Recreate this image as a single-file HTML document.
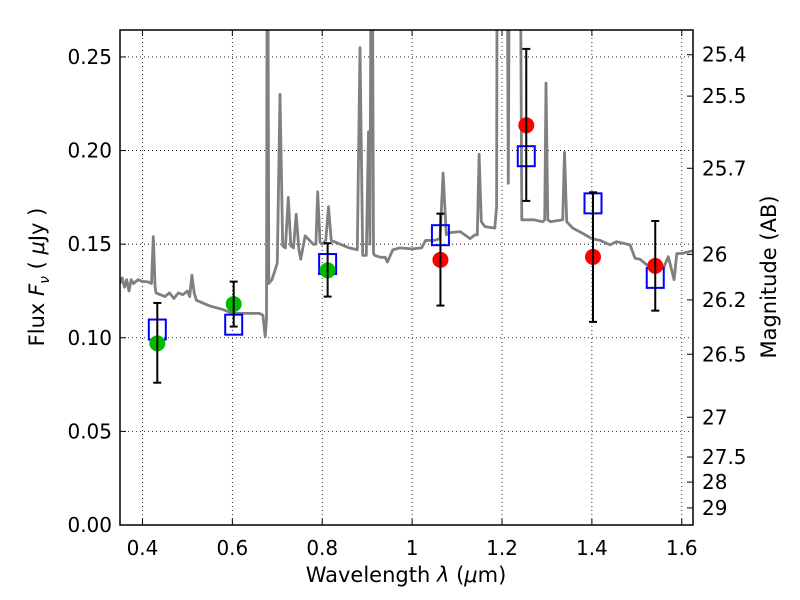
<!DOCTYPE html>
<html><head><meta charset="utf-8"><style>
body{margin:0;background:#fff}
svg{display:block;font-family:"DejaVu Sans","Liberation Sans",sans-serif}
</style></head><body>
<svg id="chart" width="800" height="600"></svg>
<script>
const xTicks=[0.4,0.6,0.8,1.0,1.2,1.4,1.6];
const xTickLabels=["0.4","0.6","0.8","1","1.2","1.4","1.6"];
const yTicks=[0,0.05,0.1,0.15,0.2,0.25];
const yTickLabels=["0.00","0.05","0.10","0.15","0.20","0.25"];
const magTicks=[25.4,25.5,25.7,26,26.2,26.5,27,27.5,28,29];
const specWl=[0.35,0.355,0.36,0.365,0.37,0.375,0.38,0.39,0.40,0.41,0.42,0.424,0.428,0.43,0.44,0.45,0.46,0.47,0.48,0.49,0.50,0.505,0.510,0.515,0.52,0.53,0.55,0.58,0.60,0.62,0.64,0.66,0.668,0.673,0.676,0.678,0.681,0.688,0.695,0.70,0.706,0.712,0.718,0.7245,0.73,0.736,0.742,0.748,0.752,0.762,0.78,0.786,0.79,0.795,0.80,0.808,0.814,0.82,0.84,0.86,0.878,0.884,0.89,0.898,0.903,0.906,0.910,0.914,0.917,0.93,0.94,0.945,0.957,0.973,1.0,1.021,1.03,1.05,1.062,1.069,1.076,1.08,1.107,1.129,1.14,1.145,1.149,1.154,1.162,1.184,1.188,1.19,1.21,1.214,1.218,1.225,1.239,1.244,1.27,1.291,1.295,1.298,1.302,1.308,1.335,1.339,1.344,1.358,1.374,1.40,1.418,1.44,1.455,1.485,1.496,1.507,1.522,1.559,1.570,1.583,1.589,1.60,1.625];
const specFlux=[0.129,0.132,0.127,0.131,0.125,0.131,0.129,0.131,0.130,0.130,0.129,0.154,0.127,0.124,0.123,0.122,0.124,0.121,0.124,0.123,0.125,0.122,0.1335,0.124,0.120,0.119,0.117,0.115,0.113,0.113,0.113,0.113,0.112,0.1006,0.11,0.4,0.129,0.131,0.136,0.14,0.230,0.149,0.148,0.175,0.149,0.148,0.166,0.147,0.142,0.1544,0.150,0.150,0.178,0.151,0.150,0.152,0.170,0.152,0.150,0.148,0.147,0.255,0.144,0.144,0.210,0.150,0.4,0.145,0.144,0.143,0.143,0.1405,0.147,0.148,0.1475,0.148,0.152,0.152,0.153,0.188,0.155,0.156,0.1567,0.153,0.155,0.155,0.198,0.162,0.1594,0.1586,0.17,0.4,0.4,0.1825,0.4,0.4,0.4,0.163,0.163,0.162,0.163,0.236,0.163,0.162,0.163,0.199,0.162,0.1585,0.1565,0.153,0.152,0.1496,0.1513,0.1496,0.1425,0.142,0.139,0.137,0.1433,0.131,0.145,0.145,0.1465];
const photWl=[0.433,0.603,0.812,1.063,1.254,1.4025,1.541];
const photFlux=[0.097,0.118,0.136,0.1416,0.2135,0.1432,0.1384];
const errHigh=[0.1186,0.130,0.1505,0.1663,0.2543,0.1777,0.1624];
const errLow=[0.076,0.106,0.122,0.1172,0.1731,0.1085,0.1145];
const modelFlux=[0.1044,0.107,0.1394,0.1548,0.197,0.1718,0.132];
const photColor=["#00bb00","#00bb00","#00bb00","#ff0000","#ff0000","#ff0000","#ff0000"];

const L=120,R=693,T=30,B=525;
const X0=0.35,X1=1.625,Y0=0,Y1=0.2644;
const sx=v=>L+(v-X0)/(X1-X0)*(R-L);
const sy=v=>B-(v-Y0)/(Y1-Y0)*(B-T);
const magToFlux=m=>Math.pow(10,(23.9-m)/2.5);
const NS="http://www.w3.org/2000/svg";
const svg=document.getElementById('chart');
function mk(tag,attrs,parent){const e=document.createElementNS(NS,tag);for(const k in attrs)e.setAttribute(k,attrs[k]);(parent||svg).appendChild(e);return e;}

const defs=mk('defs',{});
const cp=mk('clipPath',{id:'pc'},defs);
mk('rect',{x:L,y:T,width:R-L,height:B-T},cp);

xTicks.forEach((t,i)=>{
 const g=mk('line',{x1:sx(t),x2:sx(t),y1:T,y2:B,stroke:'#000','stroke-width':0.8,'stroke-dasharray':'1,3'});
 
 
});
yTicks.forEach((t,i)=>{
 const g=mk('line',{x1:L,x2:R,y1:sy(t),y2:sy(t),stroke:'#000','stroke-width':0.8,'stroke-dasharray':'1,3'});
 
 
});

const pts=specWl.map((w,i)=>sx(w).toFixed(1)+','+sy(specFlux[i]).toFixed(1)).join(' ');
const sp=mk('polyline',{points:pts,fill:'none',stroke:'#808080','stroke-width':2.8,'stroke-linejoin':'round','clip-path':'url(#pc)'});



photWl.forEach((w,i)=>{
 const x=sx(w);
 const sq=mk('rect',{x:x-8.5,y:sy(modelFlux[i])-10,width:17,height:20,fill:'none',stroke:'#0000ff','stroke-width':2});
 
 
 const c=mk('circle',{cx:x,cy:sy(photFlux[i]),r:8,fill:photColor[i]});
 
 
 const eb=mk('g',{stroke:'#000','stroke-width':2});
 
 
 mk('line',{x1:x,x2:x,y1:sy(errHigh[i]),y2:sy(errLow[i])},eb);
 mk('line',{x1:x-4,x2:x+4,y1:sy(errHigh[i]),y2:sy(errHigh[i])},eb);
 mk('line',{x1:x-4,x2:x+4,y1:sy(errLow[i]),y2:sy(errLow[i])},eb);
});

const fr=mk('rect',{x:L,y:T,width:R-L,height:B-T,fill:'none',stroke:'#000','stroke-width':1.5});



xTicks.forEach((t,i)=>{
 const x=sx(t);
 mk('line',{x1:x,x2:x,y1:B,y2:B-6,stroke:'#000'});
 mk('line',{x1:x,x2:x,y1:T,y2:T+6,stroke:'#000'});
 const tx=mk('text',{x:x,y:B+30,'text-anchor':'middle','font-size':20});
 tx.textContent=xTickLabels[i];
 
 
});
yTicks.forEach((t,i)=>{
 const y=sy(t);
 mk('line',{x1:L,x2:L+6,y1:y,y2:y,stroke:'#000'});
 const tx=mk('text',{x:L-8,y:y+7,'text-anchor':'end','font-size':20});
 tx.textContent=yTickLabels[i];
 
 
});
magTicks.forEach((m,i)=>{
 const y=sy(magToFlux(m));
 mk('line',{x1:R,x2:R-6,y1:y,y2:y,stroke:'#000'});
 const tx=mk('text',{x:R+9,y:y+7,'font-size':20});
 tx.textContent=String(m);
 
 
});
</script>
<svg width="800" height="600" style="position:absolute;left:0;top:0">
<text x="406" y="582" text-anchor="middle" font-size="21" font-family="DejaVu Sans,sans-serif">Wavelength  <tspan font-style="italic">λ</tspan> (<tspan font-style="italic">μ</tspan>m)</text>
<text transform="translate(44,277) rotate(-90)" text-anchor="middle" font-size="21" font-family="DejaVu Sans,sans-serif">Flux  <tspan font-style="italic">F</tspan><tspan font-style="italic" font-size="14" dy="5">ν</tspan><tspan dy="-5">  ( </tspan><tspan font-style="italic">μ</tspan>Jy )</text>
<text transform="translate(776,277) rotate(-90)" text-anchor="middle" font-size="21" font-family="DejaVu Sans,sans-serif">Magnitude (AB)</text>
</svg>
</body></html>
